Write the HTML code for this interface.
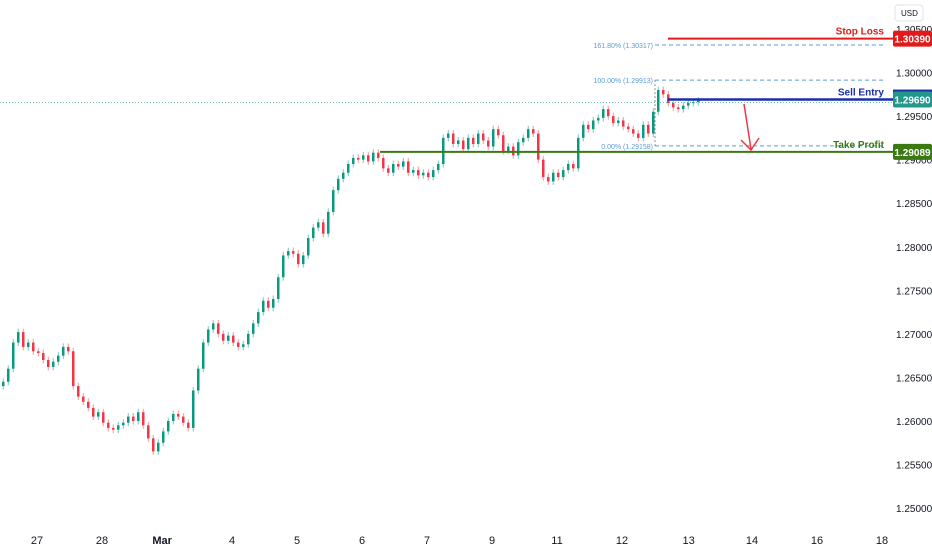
<!DOCTYPE html>
<html><head><meta charset="utf-8"><style>
body{margin:0;background:#fff;}
svg text{font-family:"Liberation Sans",sans-serif;}
</style></head><body>
<svg id="chart" width="932" height="550" xmlns="http://www.w3.org/2000/svg">
<rect width="932" height="550" fill="#fff"/>
<g id="candles"></g>
<g id="yaxis"></g>
<g id="xaxis"></g>
<g id="overlay"></g>
</svg>
<script>
const closes=[1.2645,1.2660,1.2690,1.2702,1.2685,1.2690,1.2680,1.2678,1.2670,1.2662,
1.2668,1.2675,1.2685,1.2680,1.2640,1.2628,1.2622,1.2615,1.2605,1.2610,
1.2598,1.2592,1.2590,1.2595,1.2598,1.2605,1.2600,1.2610,1.2595,1.2580,
1.2565,1.2575,1.2588,1.2600,1.2608,1.2605,1.2598,1.2592,1.2635,1.2660,
1.2690,1.2705,1.2712,1.2700,1.2692,1.2698,1.2690,1.2685,1.2688,1.2700,
1.2712,1.2725,1.2738,1.2730,1.2740,1.2765,1.2790,1.2795,1.2792,1.2780,
1.2790,1.2810,1.2822,1.2828,1.2815,1.2840,1.2865,1.2878,1.2885,1.2895,
1.2902,1.2900,1.2905,1.2898,1.2908,1.2902,1.2890,1.2885,1.2895,1.2892,
1.2898,1.2885,1.2888,1.2882,1.2885,1.2880,1.2888,1.2895,1.2925,1.2930,
1.2918,1.2922,1.2912,1.2925,1.2918,1.2930,1.2922,1.2915,1.2935,1.2928,
1.2910,1.2915,1.2905,1.2920,1.2925,1.2935,1.2930,1.2900,1.2880,1.2875,
1.2885,1.2880,1.2888,1.2895,1.2890,1.2925,1.2940,1.2935,1.2945,1.2948,
1.2958,1.2950,1.2942,1.2945,1.2938,1.2935,1.2930,1.2925,1.2940,1.2930,
1.2955,1.2980,1.2975,1.2965,1.2960,1.2958,1.2962,1.2965,1.2966,1.2968];
const startPrice=1.2640;
const wick=0.0004;
const priceTicks=[1.305,1.300,1.295,1.290,1.285,1.280,1.275,1.270,1.265,1.260,1.255,1.250];
const dateLabels=["27","28","Mar","4","5","6","7","9","11","12","13","14","16","18"];
const datePos=[0,20,38.5,60,80,100,120,140,160,180,200.5,220,240,260];
const levels={stop:1.30390,entry:1.29690,tp:1.29089};
const fibs=[["161.80% (1.30317)",1.30317],["100.00% (1.29913)",1.29913],["0.00% (1.29158)",1.29158]];

const NS="http://www.w3.org/2000/svg";
const y=p=>29+(1.305-p)/0.005*43.55;
const x=i=>2+i*5;
function mk(t,a,parent){const e=document.createElementNS(NS,t);for(const k in a)e.setAttribute(k,a[k]);parent.appendChild(e);return e;}
const cg=document.getElementById('candles');
let prev=startPrice;
closes.forEach((c,i)=>{
 const o=prev;prev=c;const up=c>=o;const col=up?'#089981':'#f23645';
 const g=mk('g',{},cg);
 
 
 mk('line',{x1:x(i)+1.25,x2:x(i)+1.25,y1:y(Math.max(o,c)+wick),y2:y(Math.min(o,c)-wick),stroke:col,'stroke-width':1,opacity:0.55},g);
 const top=y(Math.max(o,c)),h=Math.max(1,Math.abs(y(o)-y(c)));
 mk('rect',{x:x(i),y:top,width:2.5,height:h,fill:col},g);
});
const ya=document.getElementById('yaxis');
priceTicks.forEach(p=>{const t=mk('text',{x:896,y:y(p)+4,'font-size':10,fill:'#131722'},ya);t.textContent=p.toFixed(5);
});
mk('rect',{x:895,y:5,width:28,height:16,rx:3,fill:'#fff',stroke:'#e0e3eb'},ya);
const ut=mk('text',{x:901,y:16,'font-size':8,fill:'#131722'},ya);ut.textContent='USD';

const xa=document.getElementById('xaxis');
dateLabels.forEach((d,i)=>{const t=mk('text',{x:37+datePos[i]*3.25,y:544,'font-size':11,fill:'#131722','text-anchor':'middle','font-weight':d==='Mar'?'bold':'normal'},xa);t.textContent=d;
});
const ov=document.getElementById('overlay');
mk('line',{x1:0,x2:893,y1:y(levels.entry)+3,y2:y(levels.entry)+3,stroke:'#089981','stroke-dasharray':'1 2','stroke-width':1,opacity:0.6},ov);
fibs.forEach(f=>{mk('line',{x1:655,x2:886,y1:y(f[1]),y2:y(f[1]),stroke:'#5b9cd6','stroke-dasharray':'4 3','stroke-width':1},ov);
const t=mk('text',{x:653,y:y(f[1])+3,'font-size':7,fill:'#5b9cd6','text-anchor':'end'},ov);t.textContent=f[0];
});
mk('line',{x1:655,x2:655,y1:y(1.29913),y2:y(1.29158),stroke:'#888','stroke-dasharray':'2 2'},ov);
function level(p,x1,col,label,w,boxcol){
 mk('line',{x1:x1,x2:893,y1:y(p),y2:y(p),stroke:col,'stroke-width':w},ov);
 const t=mk('text',{x:884,y:y(p)-4,'font-size':10,fill:col,'text-anchor':'end','font-weight':'bold'},ov);t.textContent=label;
 
 mk('rect',{x:893,y:y(p)-8,width:39,height:16,rx:2,fill:boxcol},ov);
 const v=mk('text',{x:912.5,y:y(p)+4,'font-size':10,fill:'#fff','text-anchor':'middle','font-weight':'bold'},ov);v.textContent=p.toFixed(5);
 
}
level(levels.stop,668,'#e21a1a','Stop Loss',2,'#e21a1a');
mk('rect',{x:893,y:y(levels.entry)-10,width:39,height:8,fill:'#1a2fa8'},ov);
level(levels.entry,668,'#1a2fa8','Sell Entry',2.5,'#22978a');
level(levels.tp,380,'#3b7a12','Take Profit',2,'#3b7a12');
mk('path',{d:'M744 104 L751 149 M741 140 L751 150 L759 138',stroke:'#f23645','stroke-width':1.5,fill:'none'},ov);
</script>
</body></html>
